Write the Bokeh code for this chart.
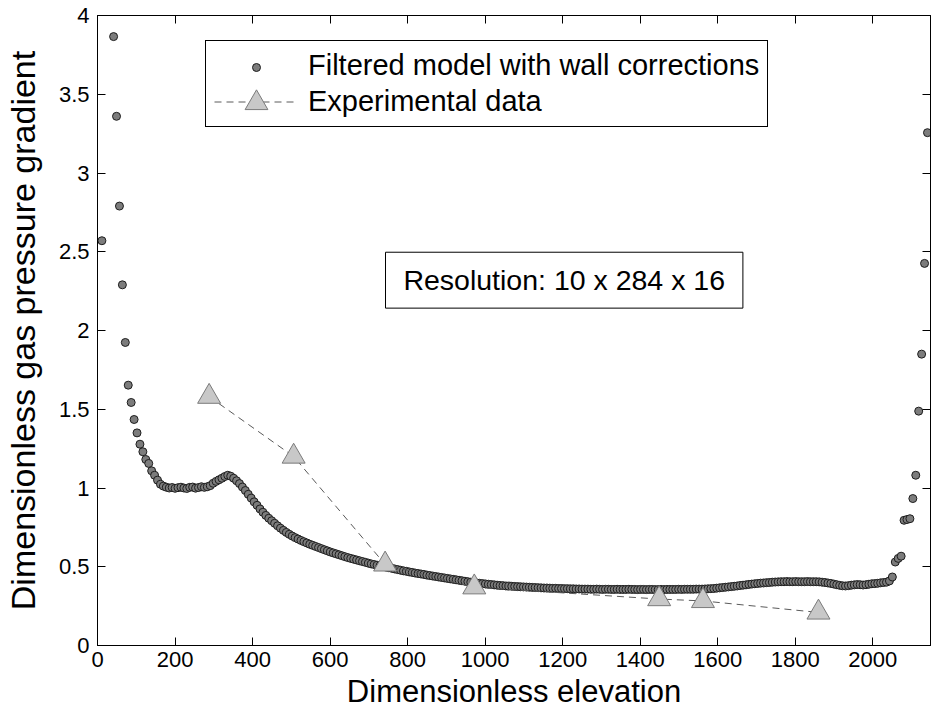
import numpy as np
from bokeh.plotting import figure
from bokeh.models import (Range1d, LinearAxis, FixedTicker, Legend, LegendItem,
                          Label, BoxAnnotation)
from bokeh.embed import file_html
from bokeh.resources import INLINE

nan = float("nan")

# ---------------- data ----------------
DOMAIN_HEIGHT = 2145.0   # dimensionless column height
N_CELLS = 284            # vertical resolution (10 x 284 x 16)

# filtered model with wall corrections: one value per vertical cell (NaN = off-scale)
model_y = [
    nan, 2.570, nan, nan, nan, 3.866, 3.360, 2.790, 2.290, 1.924,
    1.653, 1.543, 1.435, 1.350, 1.278, 1.230, 1.181, 1.156, 1.109, 1.081,
    1.050, 1.024, 1.012, 1.005, 1.000, 1.003, 0.998, 1.002, 1.005, 1.000,
    0.997, 1.004, 1.006, 0.999, 1.003, 1.008, 1.004, 1.008, 1.015, 1.030,
    1.042, 1.052, 1.062, 1.073, 1.081, 1.075, 1.062, 1.046, 1.028, 1.006,
    0.984, 0.960, 0.936, 0.912, 0.890, 0.867, 0.846, 0.826, 0.808, 0.792,
    0.776, 0.760, 0.745, 0.731, 0.718, 0.706, 0.695, 0.685, 0.676, 0.667,
    0.659, 0.651, 0.643, 0.636, 0.629, 0.622, 0.615, 0.608, 0.601, 0.594,
    0.588, 0.582, 0.576, 0.570, 0.564, 0.558, 0.553, 0.548, 0.543, 0.538,
    0.533, 0.528, 0.523, 0.518, 0.514, 0.510, 0.506, 0.502, 0.498, 0.494,
    0.490, 0.486, 0.482, 0.478, 0.474, 0.471, 0.467, 0.464, 0.460, 0.457,
    0.454, 0.451, 0.447, 0.444, 0.441, 0.438, 0.435, 0.432, 0.429, 0.426,
    0.423, 0.420, 0.417, 0.414, 0.411, 0.408, 0.405, 0.402, 0.400, 0.397,
    0.395, 0.393, 0.391, 0.389, 0.387, 0.385, 0.383, 0.381, 0.380, 0.378,
    0.377, 0.376, 0.375, 0.374, 0.373, 0.372, 0.371, 0.370, 0.369, 0.368,
    0.367, 0.366, 0.365, 0.365, 0.364, 0.363, 0.363, 0.362, 0.362, 0.361,
    0.361, 0.360, 0.360, 0.359, 0.359, 0.358, 0.358, 0.358, 0.357, 0.357,
    0.358, 0.357, 0.356, 0.357, 0.357, 0.356, 0.356, 0.357, 0.356, 0.356,
    0.356, 0.357, 0.356, 0.356, 0.355, 0.356, 0.356, 0.355, 0.356, 0.356,
    0.355, 0.355, 0.356, 0.355, 0.356, 0.356, 0.356, 0.356, 0.357, 0.356,
    0.357, 0.357, 0.357, 0.357, 0.358, 0.358, 0.358, 0.359, 0.360, 0.361,
    0.362, 0.364, 0.366, 0.368, 0.370, 0.372, 0.374, 0.376, 0.378, 0.381,
    0.383, 0.385, 0.388, 0.390, 0.392, 0.394, 0.396, 0.397, 0.399, 0.400,
    0.402, 0.403, 0.404, 0.405, 0.405, 0.406, 0.405, 0.405, 0.406, 0.405,
    0.405, 0.405, 0.406, 0.405, 0.405, 0.405, 0.404, 0.402, 0.400, 0.397,
    0.394, 0.390, 0.386, 0.382, 0.379, 0.378, 0.380, 0.383, 0.385, 0.387,
    0.386, 0.384, 0.386, 0.389, 0.392, 0.393, 0.395, 0.398, 0.400, 0.402,
    0.410, 0.435, 0.530, 0.553, 0.567, 0.795, 0.800, 0.805, 0.933, 1.081,
    1.488, 1.850, 2.426, 3.256,
]

# experimental data
exp_x = [288, 506, 742, 972, 1449, 1562, 1860]
exp_y = [1.580, 1.200, 0.515, 0.370, 0.295, 0.283, 0.210]

x_ticks = [0, 200, 400, 600, 800, 1000, 1200, 1400, 1600, 1800, 2000]
y_ticks = [0, 0.5, 1, 1.5, 2, 2.5, 3, 3.5, 4]
y_tick_labels = ["0", "0.5", "1", "1.5", "2", "2.5", "3", "3.5", "4"]

# cell-centre elevations of the 284 vertical cells
elevation = (np.arange(N_CELLS) + 0.5) * DOMAIN_HEIGHT / N_CELLS

FONT = "Liberation Sans"

p = figure(width=931, height=723, output_backend="svg", toolbar_location=None,
           x_range=Range1d(0, 2149), y_range=Range1d(0, 4),
           min_border_left=96, min_border_right=1, min_border_top=15,
           min_border_bottom=78,
           x_axis_label="Dimensionless elevation",
           y_axis_label="Dimensionless gas pressure gradient")
p.grid.visible = False
p.outline_line_color = "black"
p.background_fill_color = "white"
p.border_fill_color = "white"

xa = p.below[0]
ya = p.left[0]
for ax in (xa, ya):
    ax.axis_line_color = "black"
    ax.axis_line_width = 1
    ax.major_tick_in = 8
    ax.major_tick_out = 0
    ax.major_tick_line_color = "black"
    ax.minor_tick_line_color = None
    ax.major_label_text_font = FONT
    ax.major_label_text_font_size = "22px"
    ax.major_label_text_color = "black"
    ax.axis_label_text_font = FONT
    ax.axis_label_text_font_style = "normal"
    ax.axis_label_text_color = "black"
xa.axis_label_text_font_size = "31px"
ya.axis_label_text_font_size = "34px"
xa.ticker = FixedTicker(ticks=x_ticks)
ya.ticker = FixedTicker(ticks=y_ticks)
ya.major_label_overrides = {t: s for t, s in zip(y_ticks, y_tick_labels)}
xa.major_label_standoff = 6
xa.axis_label_standoff = 4
ya.major_label_standoff = 8
ya.axis_label_standoff = 14

top_ax = LinearAxis(ticker=FixedTicker(ticks=x_ticks),
                    major_label_overrides={t: "" for t in x_ticks},
                    major_label_text_font_size="1px", major_label_standoff=0,
                    major_tick_in=8, major_tick_out=0, minor_tick_line_color=None,
                    axis_line_color="black", major_tick_line_color="black")
p.add_layout(top_ax, "above")
right_ax = LinearAxis(ticker=FixedTicker(ticks=y_ticks),
                      major_label_overrides={t: "" for t in y_ticks},
                      major_label_text_font_size="1px", major_label_standoff=0,
                      major_tick_in=8, major_tick_out=0, minor_tick_line_color=None,
                      axis_line_color="black", major_tick_line_color="black")
p.add_layout(right_ax, "right")

# ---------------- glyphs ----------------
model = p.scatter(elevation, model_y, marker="circle", size=8,
                  fill_color="#7c7c7c", line_color="#1e1e1e", line_width=1)
exp_line = p.line(exp_x, exp_y, line_color="#5a5a5a", line_width=1, line_dash="7 5")
exp_pts = p.scatter(exp_x, exp_y, marker="triangle", size=23,
                    fill_color="#c8c8c8", line_color="#7a7a7a", line_width=1)
dummy = p.scatter(x=[], y=[], marker="circle", size=1, fill_alpha=0, line_alpha=0)

# ---------------- resolution box ----------------
p.add_layout(BoxAnnotation(left=743, right=1665, bottom=2.142, top=2.497,
                           fill_color="white", fill_alpha=1,
                           line_color="black", line_width=1, line_alpha=1))
p.add_layout(Label(x=1204, y=2.32, text="Resolution: 10 x 284 x 16",
                   text_font=FONT, text_font_size="28.5px", text_color="black",
                   text_align="center", text_baseline="middle"))

# ---------------- legend ----------------
legA = Legend(items=[LegendItem(label="Filtered model with wall corrections", renderers=[dummy]),
                     LegendItem(label="Experimental data", renderers=[exp_line])],
              location=(108, 518), orientation="vertical", padding=8, spacing=3,
              margin=0, glyph_width=84, glyph_height=33, label_height=33,
              label_standoff=10, label_text_font=FONT, label_text_font_size="29px",
              label_text_color="black", border_line_color="black",
              border_line_width=1, border_line_alpha=1,
              background_fill_color="white", background_fill_alpha=1)
p.add_layout(legA)
legB = Legend(items=[LegendItem(label=" ", renderers=[model])],
              location=(149, 568.5), padding=0, spacing=0, margin=0,
              glyph_width=20, glyph_height=20, label_height=20, label_width=0,
              label_standoff=0, label_text_font_size="1px",
              border_line_color=None, background_fill_alpha=0)
p.add_layout(legB)
legC = Legend(items=[LegendItem(label=" ", renderers=[exp_pts])],
              location=(117, 514), padding=0, spacing=0, margin=0,
              glyph_width=84, glyph_height=57, label_height=57, label_width=0,
              label_standoff=0, label_text_font_size="1px",
              border_line_color=None, background_fill_alpha=0)
p.add_layout(legC)

open("out.html", "w").write(file_html(p, INLINE))
